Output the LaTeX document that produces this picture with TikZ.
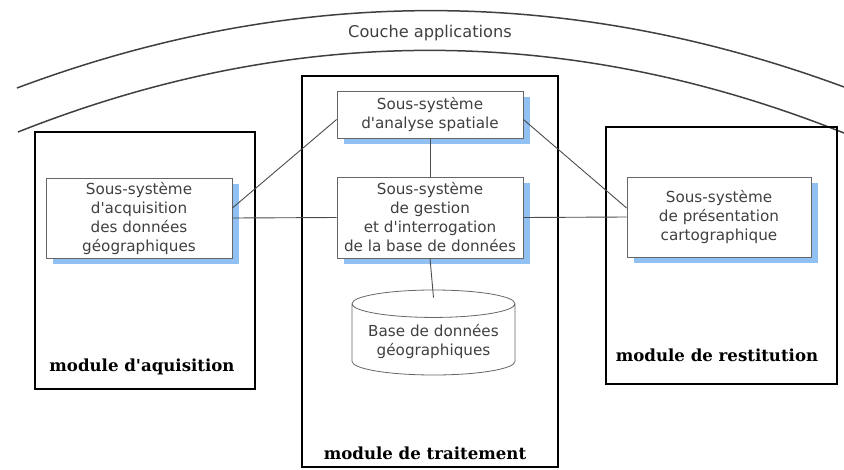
\documentclass[tikz,border=0pt]{standalone}
\usepackage{fontspec}
\usepackage{xcolor}
\newfontfamily\soussysfont{DejaVu Sans}
\newfontfamily\modulefont{DejaVu Serif}
\usetikzlibrary{positioning, shapes, shadows}

\definecolor{ombre}{RGB}{145,192,242}

\begin{document}
\begin{tikzpicture}[x=1pt, y=-1pt,
    soussys/.style={rectangle, draw=black!60, line width=0.8pt, fill=white, align=center, text=black!75,
        font=\soussysfont\fontsize{15.2}{19}\selectfont, inner sep=2pt,
        drop shadow={shadow xshift=7pt, shadow yshift=-6pt, fill=ombre, opacity=1}},
    module/.style={rectangle, draw=black, line width=1.6pt},
    modlabel/.style={font=\modulefont\bfseries\fontsize{16.6}{18}\selectfont},
    lien/.style={draw=black!70, line width=0.9pt},
    couche/.style={draw=black!75, line width=1.5pt}]
            \useasboundingbox (0,0) rectangle (844,469);

            \draw[couche] (17,88) .. controls (292,-15) and (568,-15) .. (844,87);
            \draw[couche] (18,132) .. controls (293,23) and (568,23) .. (844,133);
            \node[text=black!75, font=\soussysfont\fontsize{16.2}{18}\selectfont] (couche) at (430,33) {Couche applications};

            \node[module, minimum width=220, minimum height=257] (modacq) at (145,260.5) {};
            \node[module, minimum width=256, minimum height=391] (modtrt) at (430,271.5) {};
            \node[module, minimum width=231, minimum height=257] (modres) at (721.5,255.5) {};

            \node[soussys, minimum width=186, minimum height=80] (acq) at (139,218) {Sous-système\\d'acquisition\\des données\\géographiques};
            \node[soussys, minimum width=186, minimum height=47] (ana) at (430,114.5) {Sous-système\\d'analyse spatiale};
            \node[soussys, minimum width=186, minimum height=81] (ges) at (430,217.5) {Sous-système\\de gestion\\et d'interrogation\\de la base de données};
            \node[soussys, minimum width=184, minimum height=80] (pres) at (719,217) {Sous-système\\de présentation\\cartographique};
            \node[cylinder, shape border rotate=90, aspect=0.2, draw=black!60, line width=0.8pt, align=center, text=black!75,
                font=\soussysfont\fontsize{15.2}{19}\selectfont, minimum width=163, minimum height=85] (db) at (433.5,341.5) {Base de données\\géographiques};

            \node[modlabel] (lblacq) at (142,367) {module d'aquisition};
            \node[modlabel] (lbltrt) at (425,453) {module de traitement};
            \node[modlabel] (lblres) at (717,355) {module de restitution};

            \draw[lien] ([yshift=10pt]acq.east) -- ([yshift=-5pt]ana.west);
            \draw[lien] (acq.east) -- (ges.west);
            \draw[lien] (ana.south) -- (ges.north);
            \draw[lien] (ges.south) -- ([yshift=-8pt]db.top);
            \draw[lien] ([yshift=-5pt]ana.east) -- ([yshift=9pt]pres.west);
            \draw[lien] (ges.east) -- (pres.west);
        \end{tikzpicture}
\end{document}
